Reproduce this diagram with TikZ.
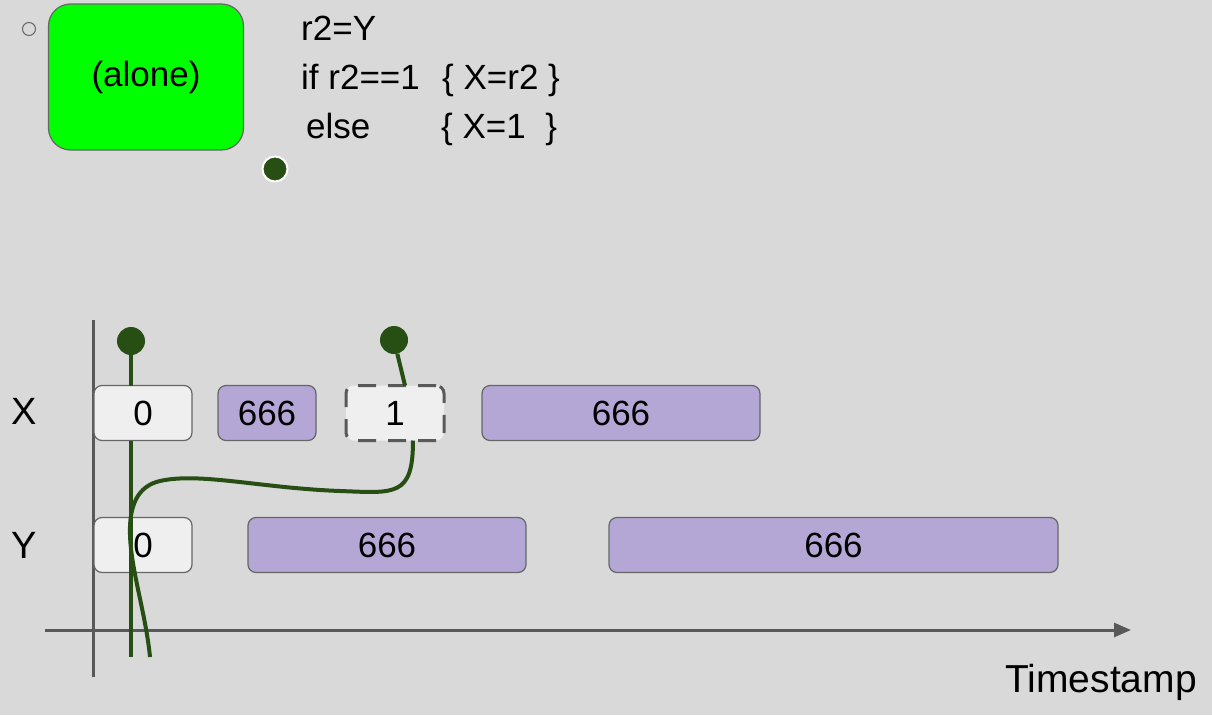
\documentclass[tikz,border=0pt]{standalone}
\usepackage{fontspec}
\setmainfont{Liberation Sans}
\usetikzlibrary{positioning,arrows.meta}
\definecolor{bg}{HTML}{D9D9D9}
\definecolor{edge}{HTML}{666666}
\definecolor{axis}{HTML}{595959}
\definecolor{lime}{HTML}{00FF00}
\definecolor{leaf}{HTML}{274E13}
\definecolor{cellw}{HTML}{EFEFEF}
\definecolor{cellp}{HTML}{B4A7D6}

\begin{document}
\begin{tikzpicture}[x=1pt, y=-1pt, node distance=26pt, f/.style={inner sep=0pt, font=\fontsize{35}{42}\selectfont}, g/.style={inner sep=0pt, font=\fontsize{38}{45}\selectfont}, b/.style={f, draw=edge, line width=1.2pt, rounded corners=8pt, minimum height=55pt, outer sep=0pt}, w/.style={b, fill=cellw, minimum width=98pt}, p/.style={b, fill=cellp}, d/.style={circle, fill=leaf, inner sep=0pt, minimum size=28pt}, s/.style={draw=leaf, line width=4pt}, a/.style={draw=axis, line width=3pt}]
		\fill[bg] (0,0) rectangle (1212,715);
		\useasboundingbox (0,0) rectangle (1212,715);

		\node[circle, draw=edge, line width=1pt, minimum size=13pt, inner sep=0pt] (o) at (29,29) {};
		\node[f, draw=edge, line width=1.2pt, fill=lime, rounded corners=22pt, minimum width=195pt, minimum height=146pt] (alone) at (146,77) {(alone)};
		\node[f, anchor=base west] (c1) at (301,40) {r2=Y};
		\node[f, anchor=base west] (c2) at (301,89) {if r2==1};
		\node[f, anchor=base west] (b2) at (442,89) {\{ X=r2 \}};
		\node[f, anchor=base west] (c3) at (306,138) {else};
		\node[f, anchor=base west] (b3) at (441,138) {\{ X=1\ \ \}};
		\node[circle, fill=leaf, draw=white, line width=2pt, minimum size=25pt, inner sep=0pt] (t) at (275,169) {};

		\coordinate (ytop) at (93,320);
		\coordinate (ybot) at (93,677);
		\coordinate (tl) at (45,630);
		\coordinate (tr) at (1131,630);
		\draw[a] (ytop) -- (ybot);
		\draw[a, -{Triangle[length=17pt,width=14pt]}] (tl) -- (tr);
		\node[g, font=\fontsize{39}{46}\selectfont, anchor=base east] (ts) at (1197,692) {Timestamp};

		\node[g] (X) at (24,411) {X};
		\node[g] (Y) at (24,545) {Y};

		\node[w] (x0) at (143,413) {0};
		\node[p, minimum width=98pt, right=26pt of x0] (x6a) {666};
		\node[w, draw=axis, line width=3pt, dash pattern=on 18pt off 12pt, right=30pt of x6a] (x1) {1};
		\node[p, minimum width=278pt, right=38pt of x1] (x6b) {666};

		\node[w] (y0) at (143,545) {0};
		\node[p, minimum width=278pt, right=56pt of y0] (y6a) {666};
		\node[p, minimum width=449pt, right=83pt of y6a] (y6b) {666};

		\node[d] (d0) at (131,341) {};
		\node[d] (d1) at (394,340) {};
		\coordinate (e0) at (131,657);
		\coordinate (e1) at (150,657);

		\draw[s] (d0) -- ([xshift=-12pt]x0.north);
		\draw[s] ([xshift=-12pt]x0.south) -- (e0);
		\draw[s] (d1) -- ([xshift=10pt]x1.north);
		\draw[s] ([xshift=18pt]x1.south) .. controls (413,497) and (395,493) .. (340,491) .. controls (260,488) and (200,472) .. (160,481) .. controls (138,486) and (129,505) .. (130,535) .. controls (131,570) and (146,615) .. (e1);
	\end{tikzpicture}
\end{document}
